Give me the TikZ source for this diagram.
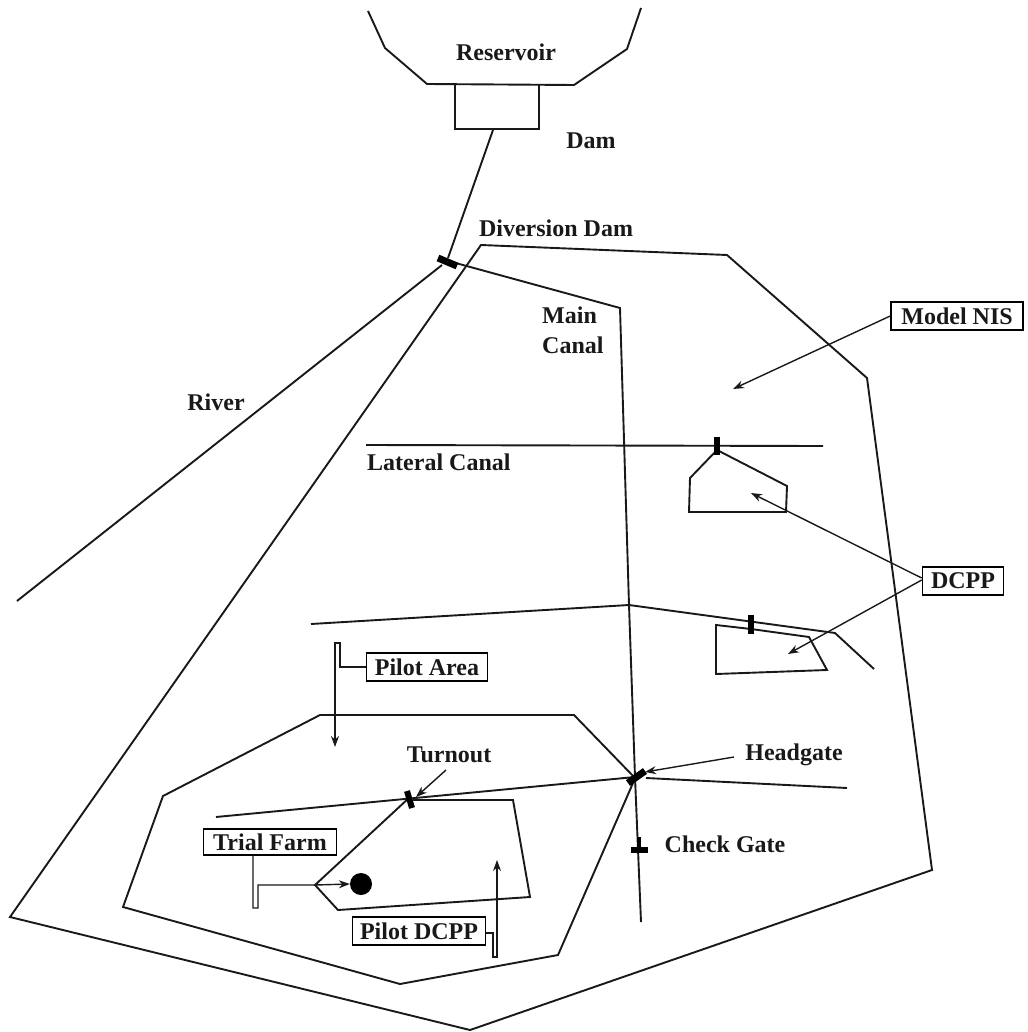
\documentclass[tikz,border=0pt]{standalone}
\usepackage{fontspec}
\setmainfont{Liberation Serif}
\usetikzlibrary{arrows.meta}
\tikzset{
  lbl/.style={inner sep=0pt,font=\fontsize{24}{28}\selectfont\bfseries,text=black!90},
  boxlbl/.style={lbl,draw,line width=1.6pt,minimum height=28pt,inner sep=0pt},
  ln/.style={line width=1.9pt,line join=miter,black!90},
  thin ln/.style={line width=1.4pt,black!90},
  ptr/.style={thin ln,-{Stealth[length=11pt,width=8pt]}},
  gate/.style={line width=7pt,black}
}
\begin{document}
\begin{tikzpicture}[x=1pt,y=-1pt]
\useasboundingbox (0,0) rectangle (1027,1032);
% free ends
\coordinate (nisTip) at (733,389);
\coordinate (dcppTipA) at (751,493);
\coordinate (dcppTipB) at (788,654);
\coordinate (headTip) at (645,772);
\coordinate (turnTip) at (416,797);
\coordinate (turnFrom) at (446,770);
\coordinate (headFrom) at (734,757);
% reservoir and dam
\draw[ln] (368,11) -- (385,48) -- (427,84) -- (574,85) -- (627,49) -- (641,8);
\draw[ln] (455,85) -- (455,129) -- (539,129) -- (539,85);
\draw[ln] (493,130) -- (448,258);
% river
\draw[ln] (17,601) -- (442,265);
% main canal
\draw[ln] (452,262) -- (620,308) -- (629,605) -- (635,777) -- (641,922);
% model NIS outline
\draw[ln] (10,917) -- (481,245) -- (727,255) -- (867,378) -- (932,870) -- (470,1030) -- cycle;
% lateral canal 1 and its DCPP
\draw[ln] (366,445) -- (823,446);
\draw[ln] (717,450) -- (690,478) -- (689,512) -- (786,512) -- (787,486) -- (717,450);
% lateral canal 2 and its DCPP
\draw[ln] (311,624) -- (629,605) -- (835,633) -- (874,669);
\draw[ln] (751,629) -- (716,625) -- (716,674) -- (827,670) -- (809,637) -- cycle;
% pilot area
\draw[ln] (633,783) -- (582,900) -- (558,955) -- (400,984) -- (123,907) -- (163,796) -- (320,715) -- (574,715) -- (635,778);
% lateral canal 3
\draw[ln] (216,817) -- (635,777);
\draw[ln] (646,778) -- (847,788);
% trial farm plot
\draw[ln] (413,800) -- (513,800) -- (530,897) -- (338,910) -- (315,885) -- (410,797);
% gates
\draw[gate] (438,258) -- (457,266);
\draw[gate,line width=6pt] (717,437) -- (717,455);
\draw[gate,line width=6pt] (751,615) -- (751,634);
\draw[gate,line width=6pt] (407,791) -- (412,808);
\draw[gate] (628,783) -- (645,771);
\draw[line width=4pt] (639,837) -- (639,852);
\draw[line width=6pt] (631,850) -- (648,850);
% well
\node[circle,fill=black,minimum size=22pt,inner sep=0pt] (well) at (361,884) {};
% labels
\node[lbl] (reservoir) at (506,52) {Reservoir};
\node[lbl] (dam) at (591,141) {Dam};
\node[lbl] (divdam) at (556,228) {Diversion Dam};
\node[lbl,anchor=west,align=left] (maincanal) at (542,330) {Main\\[2pt]Canal};
\node[lbl] (river) at (216,402) {River};
\node[lbl,anchor=west] (latcanal) at (367,462) {Lateral Canal};
\node[lbl] (turnout) at (449,755) {Turnout};
\node[lbl] (headgate) at (794,755) {Headgate};
\node[lbl] (checkgate) at (725,844) {Check Gate};
\node[boxlbl,minimum width=132pt] (modelnis) at (957,316) {Model NIS};
\node[boxlbl,minimum width=81pt] (dcpp) at (963,581) {DCPP};
\node[boxlbl,minimum width=121pt] (pilotarea) at (427,667) {Pilot Area};
\node[boxlbl,minimum width=133pt,minimum height=26pt] (trialfarm) at (270,842) {Trial Farm};
\node[boxlbl,minimum width=133pt] (pilotdcpp) at (419,931) {Pilot DCPP};
% pointers
\draw[ptr] (modelnis.west) -- (nisTip);
\draw[ptr] (dcpp.west) ++(0,-3) -- (dcppTipA);
\draw[ptr] (dcpp.west) ++(0,-1) -- (dcppTipB);
\draw[ptr] (headFrom) -- (headTip);
\draw[ptr] (turnFrom) -- (turnTip);
\draw[ptr] (pilotarea.west) -- (340,667) -- (340,643) -- (335,643) -- (335,747);
\draw[ptr] (253,855) -- (253,908) -- (258,908) -- (258,885) -- (315,885) -- (well.west);
\draw[ptr] (pilotdcpp.east) ++(0,2) -- (493,933) -- (493,957) -- (497,957) -- (497,860);
\end{tikzpicture}
\end{document}
